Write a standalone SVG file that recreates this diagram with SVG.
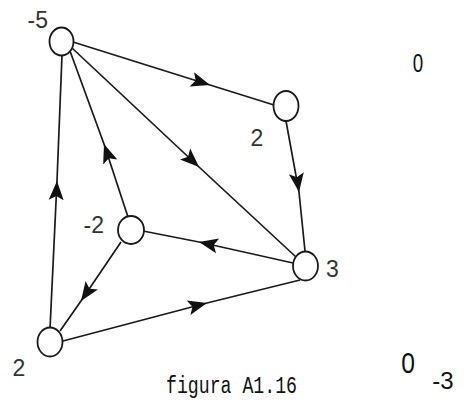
<svg xmlns="http://www.w3.org/2000/svg" width="465" height="405" viewBox="0 0 465 405">
<style>
.node{fill:#fff;stroke:#1a1a1a;stroke-width:1.8}
.edge{fill:none;stroke:#1a1a1a;stroke-width:1.7;marker-mid:url(#arr)}
.lab{font-family:"Liberation Sans",Arial,sans-serif;font-size:23px;fill:#333}
.mono{font-family:"Liberation Mono","Courier New",monospace;fill:#111}
.num{font-family:"Liberation Sans",Arial,sans-serif;fill:#111}
</style>
<defs>
<marker id="arr" markerUnits="userSpaceOnUse" markerWidth="24" markerHeight="20" refX="19" refY="9" orient="auto" viewBox="0 0 24 18">
<path d="M19,9 L0,1.5 L4,9 L0,16.5 Z" fill="#111"/>
</marker>
</defs>
<g id="edges">
<path class="edge" d="M73,42 L210,85 L274,105"/>
<path class="edge" d="M72,48 L199,167 L296,257"/>
<path class="edge" d="M128,217 L104,144 L70,51"/>
<path class="edge" d="M50,329 L57,181 L62,55"/>
<path class="edge" d="M286,121 L299,192 L305,251"/>
<path class="edge" d="M293,263 L199,242 L143,231"/>
<path class="edge" d="M121,242 L81,301 L60,331"/>
<path class="edge" d="M63,341 L207,303 L300,280"/>
</g>
<g id="n1"><ellipse class="node" cx="61.5" cy="41.5" rx="12" ry="14"/><text class="lab" x="48" y="28" text-anchor="end">-5</text></g>
<g id="n2"><ellipse class="node" cx="286" cy="106" rx="12.5" ry="15"/><text class="lab" x="257" y="146" text-anchor="middle">2</text></g>
<g id="n3"><ellipse class="node" cx="305.5" cy="266" rx="12.5" ry="14.5"/><text class="lab" x="326" y="277">3</text></g>
<g id="n4"><ellipse class="node" cx="131" cy="230" rx="13" ry="14"/><text class="lab" x="104" y="233" text-anchor="end">-2</text></g>
<g id="n5"><ellipse class="node" cx="50" cy="342" rx="12.5" ry="14.5"/><text class="lab" x="19" y="376" text-anchor="middle">2</text></g>
<text class="num" x="418" y="72" font-size="25" text-anchor="middle" transform="translate(418 0) scale(0.75 1) translate(-418 0)">0</text>
<text class="num" x="408" y="373" font-size="29" text-anchor="middle" transform="translate(408 0) scale(0.85 1) translate(-408 0)">0</text>
<text class="num" x="443" y="389" font-size="24" text-anchor="middle">-3</text>
<text class="mono" x="166" y="393" font-size="23" textLength="131" lengthAdjust="spacingAndGlyphs">figura A1.16</text>
</svg>
